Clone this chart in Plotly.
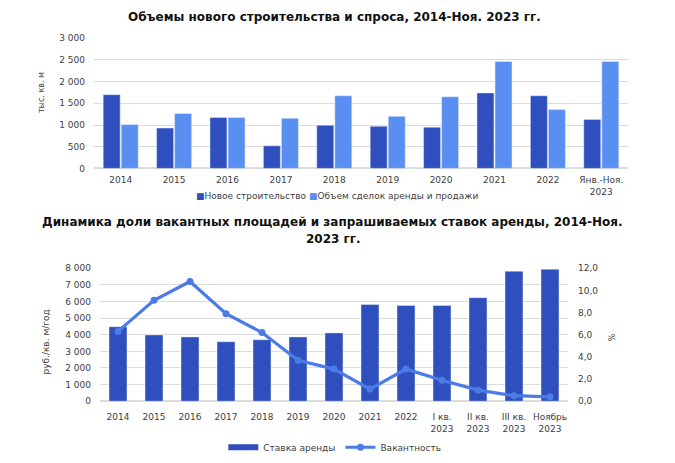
import plotly.graph_objects as go

# ---- Data: top chart ----
years_top = ["2014", "2015", "2016", "2017", "2018", "2019", "2020", "2021", "2022", "Янв.-Ноя.<br>2023"]
new_construction = [1700, 930, 1175, 520, 995, 970, 950, 1740, 1675, 1130]
deals_volume = [1010, 1265, 1175, 1155, 1675, 1200, 1650, 2465, 1355, 2465]

# ---- Data: bottom chart ----
periods = ["2014", "2015", "2016", "2017", "2018", "2019", "2020", "2021", "2022",
           "I кв.<br>2023", "II кв.<br>2023", "III кв.<br>2023", "Ноябрь<br>2023"]
rent_rate = [4480, 3990, 3870, 3580, 3700, 3870, 4110, 5820, 5760, 5760, 6230, 7820, 7940]
vacancy = [6.3, 9.1, 10.8, 7.9, 6.2, 3.7, 2.9, 1.1, 2.9, 1.9, 1.0, 0.5, 0.4]

DARK = "#2f4fbf"
LIGHT = "#5a8ff2"
LINE = "#4a7be6"
FONT = "DejaVu Sans"
TICK = dict(family=FONT, size=9, color="#404040")
W, H = 675, 463

def py(pix):
    return 1 - pix / H

def px(pix):
    return pix / W

fig = go.Figure()

# top chart bars
fig.add_trace(go.Bar(x=years_top, y=new_construction, name="Новое строительство",
                     marker_color=DARK, width=0.318, offset=-0.328, showlegend=False,
                     xaxis="x", yaxis="y"))
fig.add_trace(go.Bar(x=years_top, y=deals_volume, name="Объем сделок аренды и продажи",
                     marker_color=LIGHT, width=0.318, offset=0.01, showlegend=False,
                     xaxis="x", yaxis="y"))

# bottom chart
fig.add_trace(go.Bar(x=periods, y=rent_rate, name="Ставка аренды", showlegend=False,
                     marker_color=DARK, width=0.5, offset=-0.25,
                     xaxis="x2", yaxis="y2"))
fig.add_trace(go.Scatter(x=[None], y=[None], mode="lines", name="Ставка аренды",
                         line=dict(color=DARK, width=6), xaxis="x2", yaxis="y2",
                         legend="legend2"))
fig.add_trace(go.Scatter(x=periods, y=vacancy, mode="lines+markers", name="Вакантность",
                         line=dict(color=LINE, width=3.2), marker=dict(color=LINE, size=7),
                         xaxis="x2", yaxis="y3", legend="legend2"))

grid = "#dcdcdc"
fig.update_layout(
    width=W, height=H,
    margin=dict(l=0, r=0, t=0, b=0),
    paper_bgcolor="white", plot_bgcolor="white",
    separators=", ",
    font=dict(family=FONT, size=9, color="#404040"),
    barmode="group",
    xaxis=dict(domain=[px(94), px(628)], anchor="y", tickfont=TICK, showgrid=False,
               showline=False, ticks="", range=[-0.5, 9.5], ticklabelstandoff=5),
    yaxis=dict(domain=[py(167), py(34)], anchor="x", range=[0, 3000], dtick=500,
               tickformat=",d", gridcolor=grid, tickfont=TICK, zeroline=True,
               zerolinecolor=grid, ticks="", ticklabelstandoff=8),
    xaxis2=dict(domain=[px(100), px(568)], anchor="y2", tickfont=TICK, showgrid=False,
                showline=False, ticks="", range=[-0.5, 12.5], ticklabelstandoff=9),
    yaxis2=dict(domain=[py(405), py(269)], anchor="x2", range=[0, 8000], dtick=1000,
                tickformat=",d", gridcolor=grid, tickfont=TICK, zeroline=True,
                zerolinecolor=grid, ticks="", ticklabelstandoff=8),
    yaxis3=dict(overlaying="y2", side="right", anchor="x2", range=[0, 12], dtick=2,
                tickformat=".1f", showgrid=False, zeroline=False, tickfont=TICK,
                ticks="", ticklabelstandoff=9),
    legend2=dict(orientation="h", x=0.496, xanchor="center", y=py(452), yanchor="middle",
                 font=dict(family=FONT, size=9, color="#404040"),
                 traceorder="normal", bgcolor="rgba(0,0,0,0)"),
)

legend_top = (f'<span style="color:{DARK}">■</span>Новое строительство '
              f'<span style="color:{LIGHT}">■</span>Объем сделок аренды и продажи')

ann = [
    dict(text="<b>Объемы нового строительства и спроса, 2014-Ноя. 2023 гг.</b>",
         x=px(334), y=py(12), font=dict(family=FONT, size=12, color="#111")),
    dict(text="<b>Динамика доли вакантных площадей и запрашиваемых ставок аренды, 2014-Ноя.</b>",
         x=px(332), y=py(222), font=dict(family=FONT, size=12, color="#111")),
    dict(text="<b>2023 гг.</b>",
         x=px(333), y=py(239), font=dict(family=FONT, size=12, color="#111")),
    dict(text="тыс. кв. м", x=px(41), y=py(90), textangle=-90,
         font=dict(family=FONT, size=8, color="#404040")),
    dict(text="руб./кв. м/год", x=px(46), y=py(345), textangle=-90,
         font=dict(family=FONT, size=9, color="#404040")),
    dict(text="%", x=px(610), y=py(340), textangle=90,
         font=dict(family=FONT, size=8, color="#404040")),
    dict(text=legend_top, x=px(337), y=py(195),
         font=dict(family=FONT, size=9, color="#404040")),
]
for a in ann:
    a.update(xref="paper", yref="paper", showarrow=False, xanchor="center", yanchor="middle")
fig.update_layout(annotations=ann)

fig.write_html("out.html")
